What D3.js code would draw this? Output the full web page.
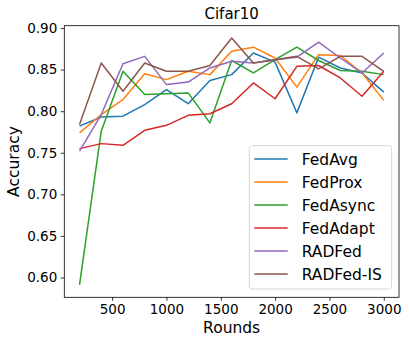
<!DOCTYPE html>
<html>
<head>
<meta charset="utf-8">
<script src="https://cdn.jsdelivr.net/npm/d3@7"></script>
<style>
  body { margin: 0; background: #fff; }
  svg text { font-family: "DejaVu Sans", sans-serif; fill: #000; }
  .axis path, .axis line { stroke: #000; stroke-width: 0.8; }
  .line { fill: none; stroke-width: 1.5; stroke-linejoin: round; }
</style>
</head>
<body>
<svg width="409" height="344"></svg>
<script>
var rounds = [200, 400, 600, 800, 1000, 1200, 1400, 1600, 1800, 2000, 2200, 2400, 2600, 2800, 3000];

var fedAvg   = [0.782, 0.793, 0.794, 0.808, 0.826, 0.809, 0.837, 0.844, 0.870, 0.859, 0.798, 0.865, 0.852, 0.846, 0.823];
var fedProx  = [0.774, 0.796, 0.814, 0.845, 0.838, 0.848, 0.844, 0.872, 0.877, 0.864, 0.829, 0.868, 0.867, 0.846, 0.813];
var fedAsync = [0.591, 0.776, 0.848, 0.820, 0.821, 0.822, 0.786, 0.861, 0.846, 0.862, 0.877, 0.861, 0.849, 0.848, 0.844];
var fedAdapt = [0.755, 0.761, 0.759, 0.777, 0.783, 0.795, 0.797, 0.809, 0.834, 0.815, 0.854, 0.855, 0.840, 0.818, 0.848];
var radFed   = [0.752, 0.796, 0.857, 0.866, 0.832, 0.835, 0.852, 0.860, 0.858, 0.862, 0.865, 0.883, 0.864, 0.846, 0.870];
var radFedIS = [0.784, 0.858, 0.824, 0.858, 0.848, 0.848, 0.855, 0.888, 0.858, 0.862, 0.866, 0.851, 0.866, 0.866, 0.848];

var names  = ["FedAvg", "FedProx", "FedAsync", "FedAdapt", "RADFed", "RADFed-IS"];
var colors = ["#1f77b4", "#ff7f0e", "#2ca02c", "#d62728", "#9467bd", "#8c564b"];
var xTicks = [500, 1000, 1500, 2000, 2500, 3000];
var yTicks = [0.60, 0.65, 0.70, 0.75, 0.80, 0.85, 0.90];

var series = [fedAvg, fedProx, fedAsync, fedAdapt, radFed, radFedIS];

var svg = d3.select("svg"),
    margin = {top: 25.7, right: 10, bottom: 46.7, left: 64.3},
    width = 399 - margin.left,
    height = 297.3 - margin.top;

// matplotlib-like 5% padding
var xMin = d3.min(rounds), xMax = d3.max(rounds), xPad = (xMax - xMin) * 0.05;
var allVals = d3.merge(series);
var yMin = d3.min(allVals), yMax = d3.max(allVals), yPad = (yMax - yMin) * 0.05;

var x = d3.scaleLinear().domain([xMin - xPad, xMax + xPad]).range([0, width]);
var y = d3.scaleLinear().domain([yMin - yPad, yMax + yPad]).range([height, 0]);

var g = svg.append("g")
    .attr("transform", "translate(" + margin.left + "," + margin.top + ")");

g.append("g")
    .attr("class", "axis")
    .attr("transform", "translate(0," + height + ")")
    .call(d3.axisBottom(x).tickValues(xTicks).tickSize(3.5).tickPadding(3.5).tickFormat(d3.format("d")))
    .call(function(s) { s.select(".domain").remove(); })
    .selectAll("text").style("font-size", "13.5px");

g.append("g")
    .attr("class", "axis")
    .call(d3.axisLeft(y).tickValues(yTicks).tickSize(3.5).tickPadding(3.5).tickFormat(d3.format(".2f")))
    .call(function(s) { s.select(".domain").remove(); })
    .selectAll("text").style("font-size", "13.5px");

var line = d3.line()
    .x(function(d, i) { return x(rounds[i]); })
    .y(function(d) { return y(d); });

series.forEach(function(s, i) {
  g.append("path")
    .datum(s)
    .attr("class", "line")
    .attr("stroke", colors[i])
    .attr("d", line);
});

// frame
g.append("rect")
    .attr("width", width)
    .attr("height", height)
    .attr("fill", "none")
    .attr("stroke", "#000")
    .attr("stroke-width", 0.8);

// title and labels
svg.append("text")
    .attr("x", margin.left + width / 2)
    .attr("y", 19)
    .attr("text-anchor", "middle")
    .style("font-size", "15px")
    .text("Cifar10");

svg.append("text")
    .attr("x", margin.left + width / 2)
    .attr("y", 333)
    .attr("text-anchor", "middle")
    .style("font-size", "15.5px")
    .text("Rounds");

svg.append("text")
    .attr("transform", "translate(19," + (margin.top + height / 2) + ") rotate(-90)")
    .attr("text-anchor", "middle")
    .style("font-size", "15.5px")
    .text("Accuracy");

// legend
var legend = svg.append("g").attr("transform", "translate(249.3,145.7)");
legend.append("rect")
    .attr("width", 142.4)
    .attr("height", 143.3)
    .attr("rx", 3)
    .attr("fill", "#fff")
    .attr("fill-opacity", 0.8)
    .attr("stroke", "#ccc")
    .attr("stroke-width", 0.8);

names.forEach(function(n, i) {
  var ly = 13.3 + i * 23;
  legend.append("line")
    .attr("x1", 5).attr("x2", 38.4)
    .attr("y1", ly).attr("y2", ly)
    .attr("stroke", colors[i])
    .attr("stroke-width", 1.5);
  legend.append("text")
    .attr("x", 52.4)
    .attr("y", ly + 5.6)
    .style("font-size", "15.5px")
    .text(n);
});
</script>
</body>
</html>
